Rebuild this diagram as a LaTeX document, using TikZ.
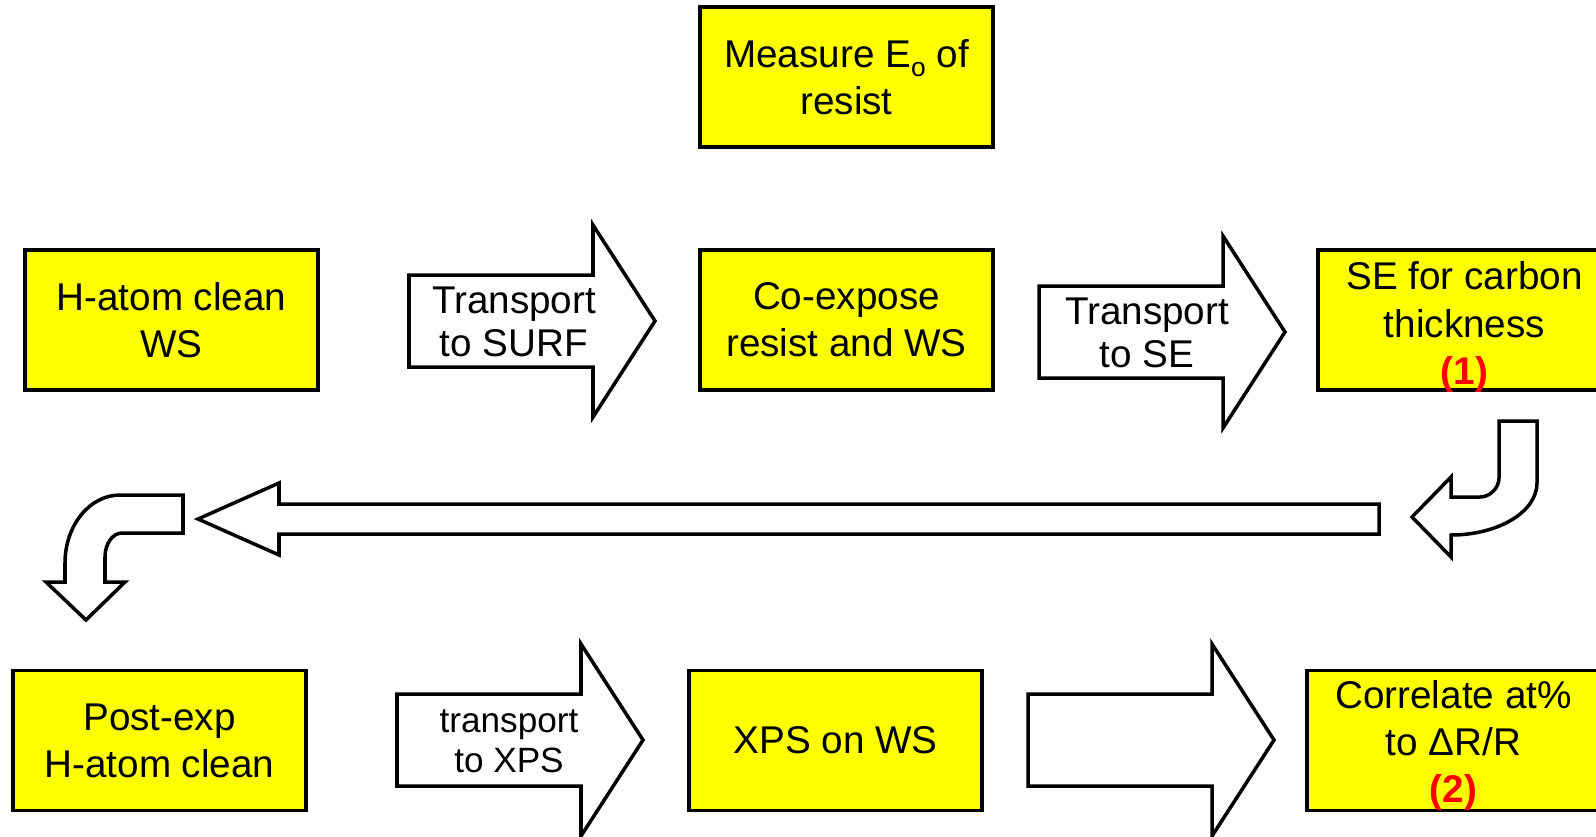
\documentclass[tikz,border=0pt]{standalone}
\usepackage{fontspec}
\setmainfont{Liberation Sans}
\usepackage{tikz}

\definecolor{boxyellow}{RGB}{255,255,0}
\definecolor{numred}{RGB}{255,0,0}

\tikzset{
  stepbox/.style={draw=black, line width=2.2pt, fill=boxyellow, minimum width=5.86cm, minimum height=2.8cm,
    align=center, inner sep=0pt, font=\fontsize{22pt}{26.8pt}\selectfont},
  boxtext/.style={align=center, inner sep=0pt, font=\fontsize{22pt}{26.8pt}\selectfont},
  arrowline/.style={draw=black, line width=2pt, fill=white, line join=miter},
  arrowtext/.style={align=center, inner sep=0pt, font=\fontsize{22pt}{24.5pt}\selectfont},
  smalltext/.style={align=center, inner sep=0pt, font=\fontsize{20pt}{22.8pt}\selectfont},
  blockarrow/.pic={
    \path[arrowline] (0,-46) -- (184,-46) -- (184,-96) -- (246,0) -- (184,96) -- (184,46) -- (0,46) -- cycle;
  }
}
\newcommand{\nummark}[1]{{\color{numred}\bfseries(#1)}}
\newcommand{\lowsub}[1]{\raisebox{-5pt}{\fontsize{15pt}{15pt}\selectfont #1}}

\begin{document}
\begin{tikzpicture}[x=0.02cm, y=-0.02cm]
		\path[use as bounding box] (0,0) rectangle (1596,836);
		\clip (0,0) rectangle (1596,836);
		
		% process boxes
		\node[stepbox] (measure) at (846.5,77) {Measure E\lowsub{o} of\\resist};
		\node[stepbox] (hclean) at (171.5,320) {H-atom clean\\WS};
		\node[stepbox] (coexpose) at (846.5,320) {Co-expose\\resist and WS};
		\node[stepbox] (sethick) at (1464.5,320) {};
		\node[boxtext] (sethicktext) at ([yshift=-4pt]sethick.center) {SE for carbon\\thickness\\\nummark{1}};
		\node[stepbox] (postclean) at (159.5,740.5) {Post-exp\\H-atom clean};
		\node[stepbox] (xps) at (835.5,740.5) {XPS on WS};
		\node[stepbox] (correlate) at (1453.5,740.5) {};
		\node[boxtext] (correlatetext) at ([yshift=-3pt]correlate.center) {Correlate at\%\\to ΔR/R\\\nummark{2}};
		
		% straight block arrows
		\pic at (409,321) {blockarrow};
		\pic at (1039,332) {blockarrow};
		\pic at (397,740) {blockarrow};
		\pic at (1028,740) {blockarrow};
		\node[arrowtext] (tosurf) at (514,322) {Transport\\to SURF};
		\node[arrowtext] (tose) at (1147,333) {Transport\\to SE};
		\node[smalltext] (toxps) at (509,741) {transport\\to XPS};
		
		% return path: bend down-left, long arrow back, bend down
		\path[arrowline] (1499,421) -- (1537,421) -- (1537,483)
			.. controls (1537,512) and (1498,535) .. (1451,535)
			-- (1451,557) -- (1412,517) -- (1451,477) -- (1451,497) -- (1480,497)
			.. controls (1490,497) and (1499,488) .. (1499,478) -- cycle;
		\path[arrowline] (1379,504) -- (279,504) -- (279,483) -- (198,519) -- (279,555) -- (279,534) -- (1379,534) -- cycle;
		\path[arrowline] (183,495) -- (183,533) -- (122,533)
			.. controls (112.6,533) and (105,543.7) .. (105,557)
			-- (105,582) -- (125,582) -- (86,620) -- (46,582) -- (65,582) -- (65,563)
			.. controls (65,525.5) and (89.6,495) .. (120,495) -- cycle;
	\end{tikzpicture}
\end{document}
